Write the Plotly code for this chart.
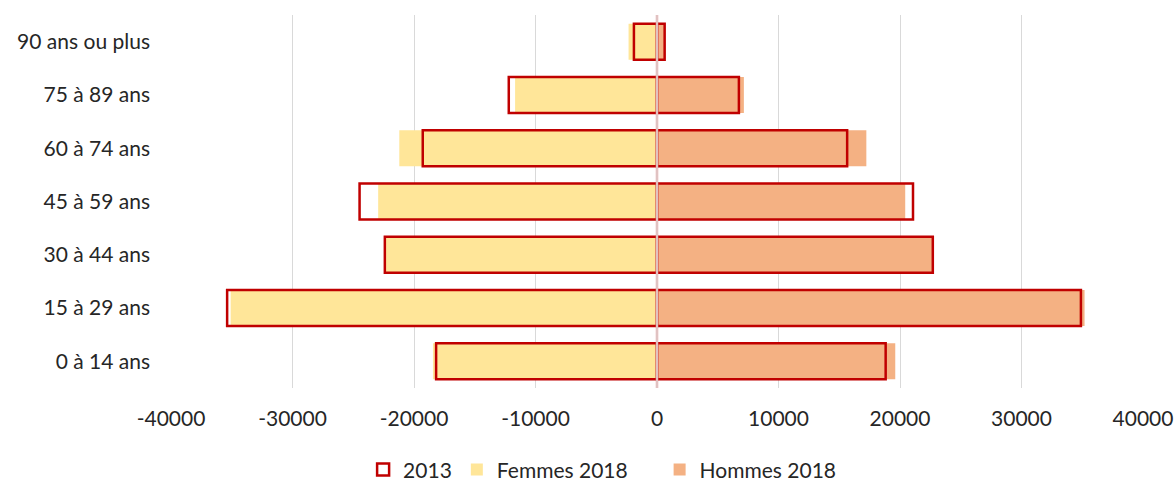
import plotly.graph_objects as go

categories = ["0 à 14 ans", "15 à 29 ans", "30 à 44 ans", "45 à 59 ans",
              "60 à 74 ans", "75 à 89 ans", "90 ans ou plus"]
femmes_2018 = [-18440, -35090, -22300, -22950, -21210, -11680, -2340]
hommes_2018 = [19610, 35190, 22650, 20430, 17230, 7150, 600]
femmes_2013 = [-18180, -35380, -22400, -24480, -19280, -12200, -1900]
hommes_2013 = [18820, 34890, 22700, 21070, 15650, 6740, 630]
x_ticks = [-40000, -30000, -20000, -10000, 0, 10000, 20000, 30000, 40000]

FONT = "Lato"
FS = 21
NB = "\u00a0"
fig = go.Figure()
fig.add_trace(go.Bar(y=categories, x=femmes_2018, orientation="h", name="Femmes 2018" + NB * 5,
                     marker=dict(color="#FFE699", line=dict(width=0)), legendrank=2))
fig.add_trace(go.Bar(y=categories, x=hommes_2018, orientation="h", name="Hommes 2018",
                     marker=dict(color="#F4B183", line=dict(width=0)), legendrank=3))
fig.add_trace(go.Bar(y=categories + categories, x=femmes_2013 + hommes_2013, orientation="h",
                     name="2013", legendrank=1,
                     marker=dict(color="rgba(0,0,0,0)", line=dict(color="#C00000", width=2.5))))

# zero line drawn over the bars
fig.add_shape(type="line", xref="x", yref="paper", x0=0, x1=0, y0=0, y1=1,
              line=dict(color="#E8ABAB", width=2.5), layer="above")
fig.add_shape(type="line", xref="x", yref="paper", x0=0, x1=0, y0=0, y1=1,
              line=dict(color="#D9D9D9", width=1), layer="above")

fig.update_layout(
    width=1176, height=482,
    barmode="overlay", bargap=0.325,
    plot_bgcolor="white", paper_bgcolor="white",
    margin=dict(l=171, r=33, t=15, b=94),
    font=dict(family=FONT, size=FS, color="#262626"),
    xaxis=dict(range=[-40000, 40000], tickvals=x_ticks, ticktext=[str(v) for v in x_ticks],
               showgrid=True, gridcolor="#D9D9D9", gridwidth=1, zeroline=False,
               showline=False, ticks="outside", ticklen=12, tickcolor="rgba(0,0,0,0)",
               tickfont=dict(size=FS), automargin=False),
    yaxis=dict(showgrid=False, zeroline=False, showline=False, ticks="",
               ticklabelstandoff=20, tickfont=dict(size=FS), automargin=False),
    legend=dict(orientation="h", xref="container", yref="container", x=0.512, xanchor="center",
                y=0.025, yanchor="middle", font=dict(size=FS), itemwidth=30,
                traceorder="normal"),
    showlegend=True,
)

fig.write_html("out.html", config={"displayModeBar": False},
               post_script="document.body.style.margin='0';document.body.style.overflow='hidden';")
